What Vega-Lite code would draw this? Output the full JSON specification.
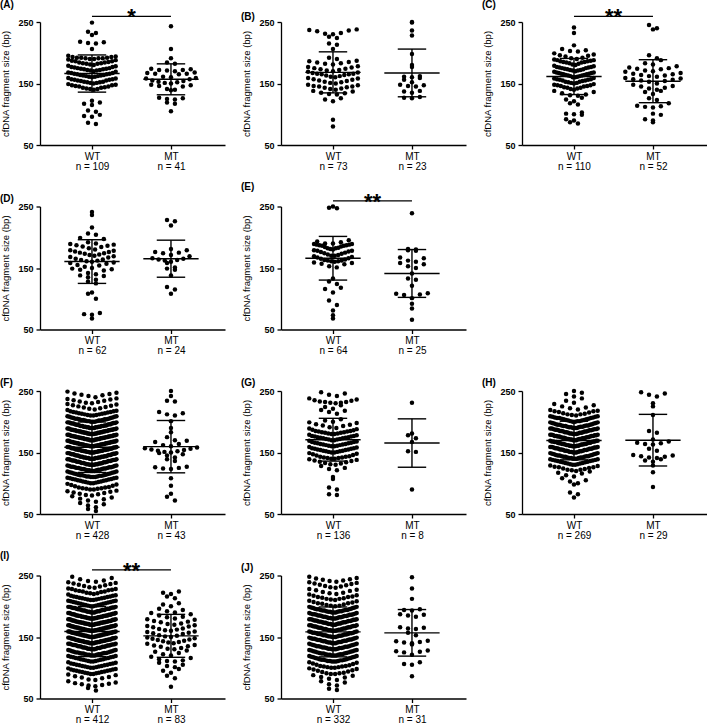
{
"$schema":"https://vega.github.io/schema/vega-lite/v6.json",
"padding":{"left":0,"top":0,"right":0,"bottom":0},
"background":"white",
"config":{"view":{"stroke":null},"font":"Liberation Sans",
"axis":{"grid":false,"domainColor":"#000","domainWidth":1.3,"tickColor":"#000","tickWidth":1.3,"labelColor":"#000","titleColor":"#000","labelFont":"Liberation Sans","titleFont":"Liberation Sans"},
"title":{"font":"Liberation Sans","fontSize":10,"fontWeight":"bold","anchor":"start","frame":"group","color":"#000"}},
"data":{"values":[
{"p":"A","g":"WT","v":[249,234,232,229,218,217,216,215,206,190,191,191,192,192,193,193,194,190,195,192,191,180,181,182,183,184,185,186,187,188,189,182,184,186,183,170,171,172,173,174,175,176,177,178,179,171,173,175,177,172,174,160,161,162,163,164,165,166,167,168,169,161,163,165,167,162,164,166,150,151,152,153,154,155,156,157,158,159,151,153,155,157,152,156,140,141,142,143,144,145,146,147,148,149,141,143,145,147,122,119,117,115,106,104,99,97,96,86,84]},
{"p":"A","g":"MT","v":[243,206,191,184,182,174,172,171,170,173,172,166,167,165,168,166,160,158,157,159,161,153,152,151,154,150,155,147,146,145,148,141,140,139,127,126,125,124,119,117,105]},
{"p":"B","g":"WT","v":[238,237,236,235,232,231,230,226,224,215,213,206,192,190,187,185,184,183,182,181,186,178,177,175,174,173,172,171,170,176,169,168,167,166,165,164,163,162,161,160,166,165,159,158,157,156,155,154,153,152,151,150,148,147,146,145,144,143,142,141,140,145,138,137,135,134,133,132,126,124,121,91,80]},
{"p":"B","g":"MT","v":[250,249,236,228,198,180,177,162,161,160,159,156,152,148,147,146,145,138,137,135,128,127,126]},
{"p":"C","g":"WT","v":[241,232,212,206,204,203,202,199,197,196,195,194,192,191,190,189,188,187,186,185,184,183,182,181,180,188,185,186,184,179,178,177,176,175,174,173,172,171,170,177,175,173,171,176,172,169,168,167,166,165,164,163,162,161,160,168,166,164,162,160,165,167,163,159,158,157,156,155,154,153,152,151,150,157,155,153,151,156,149,148,147,146,145,144,143,142,141,140,147,143,146,138,136,134,132,131,130,127,124,121,118,116,103,101,100,99,92,90,87,85]},
{"p":"C","g":"MT","v":[245,240,238,196,191,188,183,181,178,176,175,174,173,171,170,169,167,166,165,164,163,162,161,159,158,157,156,155,154,153,150,148,146,145,143,142,140,138,136,133,126,123,118,114,113,112,111,101,99,92,90,87]},
{"p":"D","g":"WT","v":[241,236,216,206,204,199,197,192,190,189,188,187,186,185,184,182,180,179,178,177,176,175,174,173,172,171,170,169,168,167,165,164,163,162,161,160,159,158,157,155,154,152,150,149,148,147,146,142,140,138,137,135,131,128,125,110,108,100,77,75,74,68]},
{"p":"D","g":"MT","v":[228,226,219,181,179,176,175,174,171,169,166,165,164,163,162,160,158,151,149,147,138,119,115,108]},
{"p":"E","g":"WT","v":[250,248,247,195,193,192,190,189,188,188,187,186,186,185,187,189,190,184,183,182,181,180,179,178,177,176,175,182,178,174,173,172,171,170,169,168,167,166,165,170,164,163,162,161,160,159,158,157,156,162,161,153,151,133,128,124,118,116,110,97,90,81,73,68]},
{"p":"E","g":"MT","v":[239,181,180,179,178,167,166,162,160,158,156,153,150,141,133,131,121,109,108,107,106,101,92,84,66]},
{"p":"F","g":"WT","v":[240,242,243,244,245,246,247,249,230,231,232,233,234,235,236,237,238,220,221,222,223,224,225,226,227,228,229,210,211,212,213,214,215,216,217,218,219,210,211,212,213,214,215,216,217,200,201,202,203,204,205,206,207,208,209,200,201,202,203,204,205,206,207,208,209,200,201,202,203,204,205,190,191,192,193,194,195,196,197,198,199,190,191,192,193,194,195,196,197,198,199,190,191,192,193,194,195,196,197,198,199,190,191,192,193,180,181,182,183,184,185,186,187,188,189,180,181,182,183,184,185,186,187,188,189,180,181,182,183,184,185,186,187,188,189,180,181,182,183,184,185,186,187,170,171,172,173,174,175,176,177,178,179,170,171,172,173,174,175,176,177,178,179,170,171,172,173,174,175,176,177,178,179,170,171,172,173,174,175,176,177,160,161,162,163,164,165,166,167,168,169,160,161,162,163,164,165,166,167,168,169,160,161,162,163,164,165,166,167,168,169,160,161,162,163,164,165,166,167,150,151,152,153,154,155,156,157,158,159,150,151,152,153,154,155,156,157,158,159,150,151,152,153,154,155,156,157,158,159,150,151,152,153,154,155,140,141,142,143,144,145,146,147,148,149,140,141,142,143,144,145,146,147,148,149,140,141,142,143,144,145,146,147,148,149,140,141,142,143,130,131,132,133,134,135,136,137,138,139,130,131,132,133,134,135,136,137,138,139,130,131,132,133,134,135,136,137,138,139,130,131,120,121,122,123,124,125,126,127,128,129,120,121,122,123,124,125,126,127,128,129,120,121,122,123,124,125,126,127,110,111,112,113,114,115,116,117,118,119,110,111,112,113,114,115,116,117,118,119,110,111,112,113,100,101,102,103,104,105,106,107,108,109,100,101,102,103,104,105,106,107,108,109,90,91,92,93,94,95,96,97,98,99,90,91,92,93,80,81,82,83,84,85,86,87,88,70,72,74,75,77,79,61,64,66,68,55,58]},
{"p":"F","g":"MT","v":[250,242,234,233,216,214,212,210,201,190,183,175,169,167,164,162,160,158,157,156,155,154,153,152,151,150,149,147,145,142,139,136,127,126,125,124,123,108,96,83,78,72,170]},
{"p":"G","g":"WT","v":[248,246,244,242,238,236,235,234,233,232,232,231,231,230,227,224,221,219,218,216,213,204,202,200,199,198,196,195,194,193,191,190,180,181,182,183,184,185,186,187,188,189,180,181,182,183,184,185,170,171,172,173,174,175,176,177,178,179,170,171,172,173,174,175,176,177,160,161,162,163,164,165,166,167,168,169,160,161,162,163,164,165,166,167,150,151,152,153,154,155,156,157,158,159,150,151,152,153,154,155,156,157,140,141,142,143,144,145,146,147,148,149,140,141,142,143,130,131,132,133,134,135,136,137,138,139,128,125,123,121,110,107,93,90,82,81]},
{"p":"G","g":"MT","v":[231,181,178,173,167,152,151,90]},
{"p":"H","g":"WT","v":[250,247,245,241,238,234,231,229,227,225,223,222,220,210,211,212,213,214,215,216,217,218,219,212,217,200,201,202,203,204,205,206,207,208,209,200,201,202,203,204,205,206,207,208,209,201,206,190,191,192,193,194,195,196,197,198,199,190,191,192,193,194,195,196,197,198,199,190,191,192,193,194,195,180,181,182,183,184,185,186,187,188,189,180,181,182,183,184,185,186,187,188,189,180,181,182,183,184,185,186,187,188,189,170,171,172,173,174,175,176,177,178,179,170,171,172,173,174,175,176,177,178,179,170,171,172,173,174,175,176,177,178,179,172,177,160,161,162,163,164,165,166,167,168,169,160,161,162,163,164,165,166,167,168,169,160,161,162,163,164,165,166,167,168,169,161,164,168,150,151,152,153,154,155,156,157,158,159,150,151,152,153,154,155,156,157,158,159,150,151,152,153,154,155,156,157,158,159,140,141,142,143,144,145,146,147,148,149,140,141,142,143,144,145,146,147,148,149,140,141,142,143,144,145,130,131,132,133,134,135,136,137,138,139,130,131,132,133,134,135,136,137,138,139,120,121,122,123,124,125,126,127,128,129,122,126,111,113,116,117,119,100,103,105,108,98,82,85,77]},
{"p":"H","g":"MT","v":[248,246,244,241,230,225,211,185,182,171,168,166,165,164,163,156,153,146,145,144,143,142,141,139,137,135,129,118,94]},
{"p":"I","g":"WT","v":[240,241,242,244,246,248,230,231,232,233,234,235,236,237,238,239,220,221,222,223,224,225,226,227,228,229,221,224,226,228,210,211,212,213,214,215,216,217,218,219,210,211,212,213,214,215,216,217,200,201,202,203,204,205,206,207,208,209,200,201,202,203,204,205,206,207,208,209,190,191,192,193,194,195,196,197,198,199,190,191,192,193,194,195,196,197,198,199,190,191,192,193,194,195,196,197,198,199,180,181,182,183,184,185,186,187,188,189,180,181,182,183,184,185,186,187,188,189,180,181,182,183,184,185,186,187,188,189,180,181,182,183,184,185,170,171,172,173,174,175,176,177,178,179,170,171,172,173,174,175,176,177,178,179,170,171,172,173,174,175,176,177,178,179,170,171,172,173,174,175,160,161,162,163,164,165,166,167,168,169,160,161,162,163,164,165,166,167,168,169,160,161,162,163,164,165,166,167,168,169,160,161,162,163,164,165,166,167,150,151,152,153,154,155,156,157,158,159,150,151,152,153,154,155,156,157,158,159,150,151,152,153,154,155,156,157,158,159,150,151,152,153,154,155,156,157,140,141,142,143,144,145,146,147,148,149,140,141,142,143,144,145,146,147,148,149,140,141,142,143,144,145,146,147,148,149,140,141,142,143,144,145,130,131,132,133,134,135,136,137,138,139,130,131,132,133,134,135,136,137,138,139,130,131,132,133,134,135,136,137,138,139,120,121,122,123,124,125,126,127,128,129,120,121,122,123,124,125,126,127,128,129,120,121,122,123,124,125,110,111,112,113,114,115,116,117,118,119,110,111,112,113,114,115,116,117,118,119,100,101,102,103,104,105,106,107,108,109,100,101,102,103,104,105,106,107,90,91,92,93,94,95,96,97,98,99,90,91,92,93,94,95,96,97,80,81,83,84,85,86,88,89,70,71,72,73,74,75,76,78,63,67]},
{"p":"I","g":"MT","v":[224,222,220,216,213,205,203,200,196,194,192,190,180,182,183,185,187,189,170,171,172,174,175,176,178,179,160,161,162,163,164,166,167,168,169,150,151,152,153,155,156,157,158,159,140,141,142,143,144,145,146,147,148,149,130,131,132,134,135,136,137,139,120,122,124,126,128,110,111,112,114,116,118,101,103,105,108,92,95,98,83,87,69]},
{"p":"J","g":"WT","v":[240,241,242,243,244,245,246,248,230,231,232,233,234,235,236,237,238,239,220,221,222,223,225,226,227,228,210,211,212,213,214,215,216,217,218,219,212,215,200,201,202,203,204,205,206,207,208,209,201,205,190,191,192,193,194,195,196,197,198,199,190,191,192,193,194,195,196,197,198,199,190,191,192,193,194,195,180,181,182,183,184,185,186,187,188,189,180,181,182,183,184,185,186,187,188,189,180,181,182,183,184,185,186,187,170,171,172,173,174,175,176,177,178,179,170,171,172,173,174,175,176,177,178,179,170,171,172,173,174,175,176,177,178,179,160,161,162,163,164,165,166,167,168,169,160,161,162,163,164,165,166,167,168,169,160,161,162,163,164,165,166,167,168,169,150,151,152,153,154,155,156,157,158,159,150,151,152,153,154,155,156,157,158,159,150,151,152,153,154,155,156,157,140,141,142,143,144,145,146,147,148,149,140,141,142,143,144,145,146,147,148,149,140,141,142,143,144,145,146,147,130,131,132,133,134,135,136,137,138,139,130,131,132,133,134,135,136,137,138,139,130,131,132,133,134,135,120,121,122,123,124,125,126,127,128,129,120,121,122,123,124,125,126,127,128,129,120,121,122,123,110,111,112,113,114,115,116,117,118,119,110,111,112,113,114,115,116,117,118,119,110,111,112,113,100,101,102,103,104,105,106,107,108,109,100,101,102,103,90,91,92,93,94,95,96,97,98,99,90,91,80,82,84,85,87,88,71,73,76,78,64,66]},
{"p":"J","g":"MT","v":[247,229,212,195,194,193,187,186,185,183,166,165,164,163,157,153,144,143,142,141,140,138,128,127,126,125,121,109,106,105,86]}
]},
"columns":3,
"bounds":"flush",
"spacing":{"row":61.5,"column":56},
"concat":[
{"title":{"text":"(A)","dx":-40,"dy":8},"width":185,"height":123,"transform":[{"filter":"datum.p=='A'"},{"flatten":["v"]}],"layer":[
{"transform":[{"calculate":"floor(datum.v/10)","as":"b"},{"window":[{"op":"row_number","as":"r"},{"op":"count","as":"n"}],"groupby":["g","b"],"sort":[{"field":"v","order":"ascending"}],"frame":[null,null]},{"calculate":"(datum.r%2==1?1:-1)*(datum.n%2==1?ceil((datum.r-1)/2):floor((datum.r-1)/2)+0.5)","as":"pos"},{"calculate":"(datum.g=='WT'?1:2)+datum.pos*min(0.1,(datum.g=='WT'?0.6:0.63)/max(datum.n-1,1))","as":"xp"}],
"mark":{"type":"circle","size":20,"color":"#000","opacity":1},
"encoding":{"x":{"field":"xp","type":"quantitative","scale":{"domain":[0.342,2.684],"nice":false,"zero":false},"axis":{"title":null,"values":[1,2],"labelExpr":"datum.value==1?['WT','n = 109']:['MT','n = 41']","labelFontSize":10,"labelPadding":2,"labelLineHeight":10,"labelFlush":false,"labelOverlap":false,"labelBound":false,"tickSize":4}},
"y":{"field":"v","type":"quantitative","scale":{"domain":[50,250],"nice":false,"zero":false},"axis":{"title":"cfDNA fragment size (bp)","values":[50,150,250],"labelFontSize":9,"labelFontWeight":"bold","labelFlush":false,"labelPadding":3,"titleFontSize":9.5,"titleFontWeight":"normal","titlePadding":7,"tickSize":4}}}},
{"transform":[{"aggregate":[{"op":"mean","field":"v","as":"m"},{"op":"stdev","field":"v","as":"s"}],"groupby":["g"]},{"calculate":"datum.g=='WT'?1:2","as":"c"},{"calculate":"datum.c-0.35","as":"ml"},{"calculate":"datum.c+0.35","as":"mr"},{"calculate":"datum.c-0.18","as":"cl"},{"calculate":"datum.c+0.18","as":"cr"},{"calculate":"datum.m-datum.s","as":"lo"},{"calculate":"datum.m+datum.s","as":"hi"}],
"layer":[
{"mark":{"type":"rule","color":"#000","strokeWidth":1.4},"encoding":{"x":{"field":"ml","type":"quantitative"},"x2":{"field":"mr"},"y":{"field":"m","type":"quantitative"}}},
{"mark":{"type":"rule","color":"#000","strokeWidth":1.4},"encoding":{"x":{"field":"c","type":"quantitative"},"y":{"field":"lo","type":"quantitative"},"y2":{"field":"hi"}}},
{"mark":{"type":"rule","color":"#000","strokeWidth":1.4},"encoding":{"x":{"field":"cl","type":"quantitative"},"x2":{"field":"cr"},"y":{"field":"lo","type":"quantitative"}}},
{"mark":{"type":"rule","color":"#000","strokeWidth":1.4},"encoding":{"x":{"field":"cl","type":"quantitative"},"x2":{"field":"cr"},"y":{"field":"hi","type":"quantitative"}}}]},
{"data":{"values":[{}]},"mark":{"type":"rule","color":"#000","strokeWidth":1.2},"encoding":{"x":{"datum":1},"x2":{"datum":2},"y":{"datum":259}}},
{"data":{"values":[{}]},"mark":{"type":"text","text":"*","fontSize":22,"fontWeight":"bold","baseline":"alphabetic","dy":8,"color":"#000"},"encoding":{"x":{"datum":1.5},"y":{"datum":259}}}
]},
{"title":{"text":"(B)","dx":-40,"dy":8},"width":185,"height":123,"transform":[{"filter":"datum.p=='B'"},{"flatten":["v"]}],"layer":[
{"transform":[{"calculate":"floor(datum.v/10)","as":"b"},{"window":[{"op":"row_number","as":"r"},{"op":"count","as":"n"}],"groupby":["g","b"],"sort":[{"field":"v","order":"ascending"}],"frame":[null,null]},{"calculate":"(datum.r%2==1?1:-1)*(datum.n%2==1?ceil((datum.r-1)/2):floor((datum.r-1)/2)+0.5)","as":"pos"},{"calculate":"(datum.g=='WT'?1:2)+datum.pos*min(0.1,(datum.g=='WT'?0.63:0.6)/max(datum.n-1,1))","as":"xp"}],
"mark":{"type":"circle","size":20,"color":"#000","opacity":1},
"encoding":{"x":{"field":"xp","type":"quantitative","scale":{"domain":[0.342,2.684],"nice":false,"zero":false},"axis":{"title":null,"values":[1,2],"labelExpr":"datum.value==1?['WT','n = 73']:['MT','n = 23']","labelFontSize":10,"labelPadding":2,"labelLineHeight":10,"labelFlush":false,"labelOverlap":false,"labelBound":false,"tickSize":4}},
"y":{"field":"v","type":"quantitative","scale":{"domain":[50,250],"nice":false,"zero":false},"axis":{"title":"cfDNA fragment size (bp)","values":[50,150,250],"labelFontSize":9,"labelFontWeight":"bold","labelFlush":false,"labelPadding":3,"titleFontSize":9.5,"titleFontWeight":"normal","titlePadding":7,"tickSize":4}}}},
{"transform":[{"aggregate":[{"op":"mean","field":"v","as":"m"},{"op":"stdev","field":"v","as":"s"}],"groupby":["g"]},{"calculate":"datum.g=='WT'?1:2","as":"c"},{"calculate":"datum.c-0.35","as":"ml"},{"calculate":"datum.c+0.35","as":"mr"},{"calculate":"datum.c-0.18","as":"cl"},{"calculate":"datum.c+0.18","as":"cr"},{"calculate":"datum.m-datum.s","as":"lo"},{"calculate":"datum.m+datum.s","as":"hi"}],
"layer":[
{"mark":{"type":"rule","color":"#000","strokeWidth":1.4},"encoding":{"x":{"field":"ml","type":"quantitative"},"x2":{"field":"mr"},"y":{"field":"m","type":"quantitative"}}},
{"mark":{"type":"rule","color":"#000","strokeWidth":1.4},"encoding":{"x":{"field":"c","type":"quantitative"},"y":{"field":"lo","type":"quantitative"},"y2":{"field":"hi"}}},
{"mark":{"type":"rule","color":"#000","strokeWidth":1.4},"encoding":{"x":{"field":"cl","type":"quantitative"},"x2":{"field":"cr"},"y":{"field":"lo","type":"quantitative"}}},
{"mark":{"type":"rule","color":"#000","strokeWidth":1.4},"encoding":{"x":{"field":"cl","type":"quantitative"},"x2":{"field":"cr"},"y":{"field":"hi","type":"quantitative"}}}]}
]},
{"title":{"text":"(C)","dx":-40,"dy":8},"width":185,"height":123,"transform":[{"filter":"datum.p=='C'"},{"flatten":["v"]}],"layer":[
{"transform":[{"calculate":"floor(datum.v/10)","as":"b"},{"window":[{"op":"row_number","as":"r"},{"op":"count","as":"n"}],"groupby":["g","b"],"sort":[{"field":"v","order":"ascending"}],"frame":[null,null]},{"calculate":"(datum.r%2==1?1:-1)*(datum.n%2==1?ceil((datum.r-1)/2):floor((datum.r-1)/2)+0.5)","as":"pos"},{"calculate":"(datum.g=='WT'?1:2)+datum.pos*min(0.1,(datum.g=='WT'?0.5:0.8)/max(datum.n-1,1))","as":"xp"}],
"mark":{"type":"circle","size":20,"color":"#000","opacity":1},
"encoding":{"x":{"field":"xp","type":"quantitative","scale":{"domain":[0.342,2.684],"nice":false,"zero":false},"axis":{"title":null,"values":[1,2],"labelExpr":"datum.value==1?['WT','n = 110']:['MT','n = 52']","labelFontSize":10,"labelPadding":2,"labelLineHeight":10,"labelFlush":false,"labelOverlap":false,"labelBound":false,"tickSize":4}},
"y":{"field":"v","type":"quantitative","scale":{"domain":[50,250],"nice":false,"zero":false},"axis":{"title":"cfDNA fragment size (bp)","values":[50,150,250],"labelFontSize":9,"labelFontWeight":"bold","labelFlush":false,"labelPadding":3,"titleFontSize":9.5,"titleFontWeight":"normal","titlePadding":7,"tickSize":4}}}},
{"transform":[{"aggregate":[{"op":"mean","field":"v","as":"m"},{"op":"stdev","field":"v","as":"s"}],"groupby":["g"]},{"calculate":"datum.g=='WT'?1:2","as":"c"},{"calculate":"datum.c-0.35","as":"ml"},{"calculate":"datum.c+0.35","as":"mr"},{"calculate":"datum.c-0.18","as":"cl"},{"calculate":"datum.c+0.18","as":"cr"},{"calculate":"datum.m-datum.s","as":"lo"},{"calculate":"datum.m+datum.s","as":"hi"}],
"layer":[
{"mark":{"type":"rule","color":"#000","strokeWidth":1.4},"encoding":{"x":{"field":"ml","type":"quantitative"},"x2":{"field":"mr"},"y":{"field":"m","type":"quantitative"}}},
{"mark":{"type":"rule","color":"#000","strokeWidth":1.4},"encoding":{"x":{"field":"c","type":"quantitative"},"y":{"field":"lo","type":"quantitative"},"y2":{"field":"hi"}}},
{"mark":{"type":"rule","color":"#000","strokeWidth":1.4},"encoding":{"x":{"field":"cl","type":"quantitative"},"x2":{"field":"cr"},"y":{"field":"lo","type":"quantitative"}}},
{"mark":{"type":"rule","color":"#000","strokeWidth":1.4},"encoding":{"x":{"field":"cl","type":"quantitative"},"x2":{"field":"cr"},"y":{"field":"hi","type":"quantitative"}}}]},
{"data":{"values":[{}]},"mark":{"type":"rule","color":"#000","strokeWidth":1.2},"encoding":{"x":{"datum":1},"x2":{"datum":2},"y":{"datum":259}}},
{"data":{"values":[{}]},"mark":{"type":"text","text":"**","fontSize":22,"fontWeight":"bold","baseline":"alphabetic","dy":8,"color":"#000"},"encoding":{"x":{"datum":1.5},"y":{"datum":259}}}
]},
{"title":{"text":"(D)","dx":-40,"dy":5},"width":185,"height":123,"transform":[{"filter":"datum.p=='D'"},{"flatten":["v"]}],"layer":[
{"transform":[{"calculate":"floor(datum.v/10)","as":"b"},{"window":[{"op":"row_number","as":"r"},{"op":"count","as":"n"}],"groupby":["g","b"],"sort":[{"field":"v","order":"ascending"}],"frame":[null,null]},{"calculate":"(datum.r%2==1?1:-1)*(datum.n%2==1?ceil((datum.r-1)/2):floor((datum.r-1)/2)+0.5)","as":"pos"},{"calculate":"(datum.g=='WT'?1:2)+datum.pos*min(0.1,(datum.g=='WT'?0.55:0.47)/max(datum.n-1,1))","as":"xp"}],
"mark":{"type":"circle","size":20,"color":"#000","opacity":1},
"encoding":{"x":{"field":"xp","type":"quantitative","scale":{"domain":[0.342,2.684],"nice":false,"zero":false},"axis":{"title":null,"values":[1,2],"labelExpr":"datum.value==1?['WT','n = 62']:['MT','n = 24']","labelFontSize":10,"labelPadding":2,"labelLineHeight":10,"labelFlush":false,"labelOverlap":false,"labelBound":false,"tickSize":4}},
"y":{"field":"v","type":"quantitative","scale":{"domain":[50,250],"nice":false,"zero":false},"axis":{"title":"cfDNA fragment size (bp)","values":[50,150,250],"labelFontSize":9,"labelFontWeight":"bold","labelFlush":false,"labelPadding":3,"titleFontSize":9.5,"titleFontWeight":"normal","titlePadding":7,"tickSize":4}}}},
{"transform":[{"aggregate":[{"op":"mean","field":"v","as":"m"},{"op":"stdev","field":"v","as":"s"}],"groupby":["g"]},{"calculate":"datum.g=='WT'?1:2","as":"c"},{"calculate":"datum.c-0.35","as":"ml"},{"calculate":"datum.c+0.35","as":"mr"},{"calculate":"datum.c-0.18","as":"cl"},{"calculate":"datum.c+0.18","as":"cr"},{"calculate":"datum.m-datum.s","as":"lo"},{"calculate":"datum.m+datum.s","as":"hi"}],
"layer":[
{"mark":{"type":"rule","color":"#000","strokeWidth":1.4},"encoding":{"x":{"field":"ml","type":"quantitative"},"x2":{"field":"mr"},"y":{"field":"m","type":"quantitative"}}},
{"mark":{"type":"rule","color":"#000","strokeWidth":1.4},"encoding":{"x":{"field":"c","type":"quantitative"},"y":{"field":"lo","type":"quantitative"},"y2":{"field":"hi"}}},
{"mark":{"type":"rule","color":"#000","strokeWidth":1.4},"encoding":{"x":{"field":"cl","type":"quantitative"},"x2":{"field":"cr"},"y":{"field":"lo","type":"quantitative"}}},
{"mark":{"type":"rule","color":"#000","strokeWidth":1.4},"encoding":{"x":{"field":"cl","type":"quantitative"},"x2":{"field":"cr"},"y":{"field":"hi","type":"quantitative"}}}]}
]},
{"title":{"text":"(E)","dx":-40,"dy":5},"width":185,"height":123,"transform":[{"filter":"datum.p=='E'"},{"flatten":["v"]}],"layer":[
{"transform":[{"calculate":"floor(datum.v/10)","as":"b"},{"window":[{"op":"row_number","as":"r"},{"op":"count","as":"n"}],"groupby":["g","b"],"sort":[{"field":"v","order":"ascending"}],"frame":[null,null]},{"calculate":"(datum.r%2==1?1:-1)*(datum.n%2==1?ceil((datum.r-1)/2):floor((datum.r-1)/2)+0.5)","as":"pos"},{"calculate":"(datum.g=='WT'?1:2)+datum.pos*min(0.1,(datum.g=='WT'?0.48:0.4)/max(datum.n-1,1))","as":"xp"}],
"mark":{"type":"circle","size":20,"color":"#000","opacity":1},
"encoding":{"x":{"field":"xp","type":"quantitative","scale":{"domain":[0.342,2.684],"nice":false,"zero":false},"axis":{"title":null,"values":[1,2],"labelExpr":"datum.value==1?['WT','n = 64']:['MT','n = 25']","labelFontSize":10,"labelPadding":2,"labelLineHeight":10,"labelFlush":false,"labelOverlap":false,"labelBound":false,"tickSize":4}},
"y":{"field":"v","type":"quantitative","scale":{"domain":[50,250],"nice":false,"zero":false},"axis":{"title":"cfDNA fragment size (bp)","values":[50,150,250],"labelFontSize":9,"labelFontWeight":"bold","labelFlush":false,"labelPadding":3,"titleFontSize":9.5,"titleFontWeight":"normal","titlePadding":7,"tickSize":4}}}},
{"transform":[{"aggregate":[{"op":"mean","field":"v","as":"m"},{"op":"stdev","field":"v","as":"s"}],"groupby":["g"]},{"calculate":"datum.g=='WT'?1:2","as":"c"},{"calculate":"datum.c-0.35","as":"ml"},{"calculate":"datum.c+0.35","as":"mr"},{"calculate":"datum.c-0.18","as":"cl"},{"calculate":"datum.c+0.18","as":"cr"},{"calculate":"datum.m-datum.s","as":"lo"},{"calculate":"datum.m+datum.s","as":"hi"}],
"layer":[
{"mark":{"type":"rule","color":"#000","strokeWidth":1.4},"encoding":{"x":{"field":"ml","type":"quantitative"},"x2":{"field":"mr"},"y":{"field":"m","type":"quantitative"}}},
{"mark":{"type":"rule","color":"#000","strokeWidth":1.4},"encoding":{"x":{"field":"c","type":"quantitative"},"y":{"field":"lo","type":"quantitative"},"y2":{"field":"hi"}}},
{"mark":{"type":"rule","color":"#000","strokeWidth":1.4},"encoding":{"x":{"field":"cl","type":"quantitative"},"x2":{"field":"cr"},"y":{"field":"lo","type":"quantitative"}}},
{"mark":{"type":"rule","color":"#000","strokeWidth":1.4},"encoding":{"x":{"field":"cl","type":"quantitative"},"x2":{"field":"cr"},"y":{"field":"hi","type":"quantitative"}}}]},
{"data":{"values":[{}]},"mark":{"type":"rule","color":"#000","strokeWidth":1.2},"encoding":{"x":{"datum":1},"x2":{"datum":2},"y":{"datum":259}}},
{"data":{"values":[{}]},"mark":{"type":"text","text":"**","fontSize":22,"fontWeight":"bold","baseline":"alphabetic","dy":8,"color":"#000"},"encoding":{"x":{"datum":1.5},"y":{"datum":259}}}
]},
{"width":185,"height":123,"data":{"values":[]},"mark":"point"},
{"title":{"text":"(F)","dx":-40,"dy":5},"width":185,"height":123,"transform":[{"filter":"datum.p=='F'"},{"flatten":["v"]}],"layer":[
{"transform":[{"calculate":"floor(datum.v/10)","as":"b"},{"window":[{"op":"row_number","as":"r"},{"op":"count","as":"n"}],"groupby":["g","b"],"sort":[{"field":"v","order":"ascending"}],"frame":[null,null]},{"calculate":"(datum.r%2==1?1:-1)*(datum.n%2==1?ceil((datum.r-1)/2):floor((datum.r-1)/2)+0.5)","as":"pos"},{"calculate":"(datum.g=='WT'?1:2)+datum.pos*min(0.1,(datum.g=='WT'?0.62:0.66)/max(datum.n-1,1))","as":"xp"}],
"mark":{"type":"circle","size":20,"color":"#000","opacity":1},
"encoding":{"x":{"field":"xp","type":"quantitative","scale":{"domain":[0.342,2.684],"nice":false,"zero":false},"axis":{"title":null,"values":[1,2],"labelExpr":"datum.value==1?['WT','n = 428']:['MT','n = 43']","labelFontSize":10,"labelPadding":2,"labelLineHeight":10,"labelFlush":false,"labelOverlap":false,"labelBound":false,"tickSize":4}},
"y":{"field":"v","type":"quantitative","scale":{"domain":[50,250],"nice":false,"zero":false},"axis":{"title":"cfDNA fragment size (bp)","values":[50,150,250],"labelFontSize":9,"labelFontWeight":"bold","labelFlush":false,"labelPadding":3,"titleFontSize":9.5,"titleFontWeight":"normal","titlePadding":7,"tickSize":4}}}},
{"transform":[{"aggregate":[{"op":"mean","field":"v","as":"m"},{"op":"stdev","field":"v","as":"s"}],"groupby":["g"]},{"calculate":"datum.g=='WT'?1:2","as":"c"},{"calculate":"datum.c-0.35","as":"ml"},{"calculate":"datum.c+0.35","as":"mr"},{"calculate":"datum.c-0.18","as":"cl"},{"calculate":"datum.c+0.18","as":"cr"},{"calculate":"datum.m-datum.s","as":"lo"},{"calculate":"datum.m+datum.s","as":"hi"}],
"layer":[
{"mark":{"type":"rule","color":"#000","strokeWidth":1.4},"encoding":{"x":{"field":"ml","type":"quantitative"},"x2":{"field":"mr"},"y":{"field":"m","type":"quantitative"}}},
{"mark":{"type":"rule","color":"#000","strokeWidth":1.4},"encoding":{"x":{"field":"c","type":"quantitative"},"y":{"field":"lo","type":"quantitative"},"y2":{"field":"hi"}}},
{"mark":{"type":"rule","color":"#000","strokeWidth":1.4},"encoding":{"x":{"field":"cl","type":"quantitative"},"x2":{"field":"cr"},"y":{"field":"lo","type":"quantitative"}}},
{"mark":{"type":"rule","color":"#000","strokeWidth":1.4},"encoding":{"x":{"field":"cl","type":"quantitative"},"x2":{"field":"cr"},"y":{"field":"hi","type":"quantitative"}}}]}
]},
{"title":{"text":"(G)","dx":-40,"dy":5},"width":185,"height":123,"transform":[{"filter":"datum.p=='G'"},{"flatten":["v"]}],"layer":[
{"transform":[{"calculate":"floor(datum.v/10)","as":"b"},{"window":[{"op":"row_number","as":"r"},{"op":"count","as":"n"}],"groupby":["g","b"],"sort":[{"field":"v","order":"ascending"}],"frame":[null,null]},{"calculate":"(datum.r%2==1?1:-1)*(datum.n%2==1?ceil((datum.r-1)/2):floor((datum.r-1)/2)+0.5)","as":"pos"},{"calculate":"(datum.g=='WT'?1:2)+datum.pos*min(0.1,(datum.g=='WT'?0.6:0.3)/max(datum.n-1,1))","as":"xp"}],
"mark":{"type":"circle","size":20,"color":"#000","opacity":1},
"encoding":{"x":{"field":"xp","type":"quantitative","scale":{"domain":[0.342,2.684],"nice":false,"zero":false},"axis":{"title":null,"values":[1,2],"labelExpr":"datum.value==1?['WT','n = 136']:['MT','n = 8']","labelFontSize":10,"labelPadding":2,"labelLineHeight":10,"labelFlush":false,"labelOverlap":false,"labelBound":false,"tickSize":4}},
"y":{"field":"v","type":"quantitative","scale":{"domain":[50,250],"nice":false,"zero":false},"axis":{"title":"cfDNA fragment size (bp)","values":[50,150,250],"labelFontSize":9,"labelFontWeight":"bold","labelFlush":false,"labelPadding":3,"titleFontSize":9.5,"titleFontWeight":"normal","titlePadding":7,"tickSize":4}}}},
{"transform":[{"aggregate":[{"op":"mean","field":"v","as":"m"},{"op":"stdev","field":"v","as":"s"}],"groupby":["g"]},{"calculate":"datum.g=='WT'?1:2","as":"c"},{"calculate":"datum.c-0.35","as":"ml"},{"calculate":"datum.c+0.35","as":"mr"},{"calculate":"datum.c-0.18","as":"cl"},{"calculate":"datum.c+0.18","as":"cr"},{"calculate":"datum.m-datum.s","as":"lo"},{"calculate":"datum.m+datum.s","as":"hi"}],
"layer":[
{"mark":{"type":"rule","color":"#000","strokeWidth":1.4},"encoding":{"x":{"field":"ml","type":"quantitative"},"x2":{"field":"mr"},"y":{"field":"m","type":"quantitative"}}},
{"mark":{"type":"rule","color":"#000","strokeWidth":1.4},"encoding":{"x":{"field":"c","type":"quantitative"},"y":{"field":"lo","type":"quantitative"},"y2":{"field":"hi"}}},
{"mark":{"type":"rule","color":"#000","strokeWidth":1.4},"encoding":{"x":{"field":"cl","type":"quantitative"},"x2":{"field":"cr"},"y":{"field":"lo","type":"quantitative"}}},
{"mark":{"type":"rule","color":"#000","strokeWidth":1.4},"encoding":{"x":{"field":"cl","type":"quantitative"},"x2":{"field":"cr"},"y":{"field":"hi","type":"quantitative"}}}]}
]},
{"title":{"text":"(H)","dx":-40,"dy":5},"width":185,"height":123,"transform":[{"filter":"datum.p=='H'"},{"flatten":["v"]}],"layer":[
{"transform":[{"calculate":"floor(datum.v/10)","as":"b"},{"window":[{"op":"row_number","as":"r"},{"op":"count","as":"n"}],"groupby":["g","b"],"sort":[{"field":"v","order":"ascending"}],"frame":[null,null]},{"calculate":"(datum.r%2==1?1:-1)*(datum.n%2==1?ceil((datum.r-1)/2):floor((datum.r-1)/2)+0.5)","as":"pos"},{"calculate":"(datum.g=='WT'?1:2)+datum.pos*min(0.1,(datum.g=='WT'?0.6:0.57)/max(datum.n-1,1))","as":"xp"}],
"mark":{"type":"circle","size":20,"color":"#000","opacity":1},
"encoding":{"x":{"field":"xp","type":"quantitative","scale":{"domain":[0.342,2.684],"nice":false,"zero":false},"axis":{"title":null,"values":[1,2],"labelExpr":"datum.value==1?['WT','n = 269']:['MT','n = 29']","labelFontSize":10,"labelPadding":2,"labelLineHeight":10,"labelFlush":false,"labelOverlap":false,"labelBound":false,"tickSize":4}},
"y":{"field":"v","type":"quantitative","scale":{"domain":[50,250],"nice":false,"zero":false},"axis":{"title":"cfDNA fragment size (bp)","values":[50,150,250],"labelFontSize":9,"labelFontWeight":"bold","labelFlush":false,"labelPadding":3,"titleFontSize":9.5,"titleFontWeight":"normal","titlePadding":7,"tickSize":4}}}},
{"transform":[{"aggregate":[{"op":"mean","field":"v","as":"m"},{"op":"stdev","field":"v","as":"s"}],"groupby":["g"]},{"calculate":"datum.g=='WT'?1:2","as":"c"},{"calculate":"datum.c-0.35","as":"ml"},{"calculate":"datum.c+0.35","as":"mr"},{"calculate":"datum.c-0.18","as":"cl"},{"calculate":"datum.c+0.18","as":"cr"},{"calculate":"datum.m-datum.s","as":"lo"},{"calculate":"datum.m+datum.s","as":"hi"}],
"layer":[
{"mark":{"type":"rule","color":"#000","strokeWidth":1.4},"encoding":{"x":{"field":"ml","type":"quantitative"},"x2":{"field":"mr"},"y":{"field":"m","type":"quantitative"}}},
{"mark":{"type":"rule","color":"#000","strokeWidth":1.4},"encoding":{"x":{"field":"c","type":"quantitative"},"y":{"field":"lo","type":"quantitative"},"y2":{"field":"hi"}}},
{"mark":{"type":"rule","color":"#000","strokeWidth":1.4},"encoding":{"x":{"field":"cl","type":"quantitative"},"x2":{"field":"cr"},"y":{"field":"lo","type":"quantitative"}}},
{"mark":{"type":"rule","color":"#000","strokeWidth":1.4},"encoding":{"x":{"field":"cl","type":"quantitative"},"x2":{"field":"cr"},"y":{"field":"hi","type":"quantitative"}}}]}
]},
{"title":{"text":"(I)","dx":-40,"dy":5},"width":185,"height":123,"transform":[{"filter":"datum.p=='I'"},{"flatten":["v"]}],"layer":[
{"transform":[{"calculate":"floor(datum.v/10)","as":"b"},{"window":[{"op":"row_number","as":"r"},{"op":"count","as":"n"}],"groupby":["g","b"],"sort":[{"field":"v","order":"ascending"}],"frame":[null,null]},{"calculate":"(datum.r%2==1?1:-1)*(datum.n%2==1?ceil((datum.r-1)/2):floor((datum.r-1)/2)+0.5)","as":"pos"},{"calculate":"(datum.g=='WT'?1:2)+datum.pos*min(0.1,(datum.g=='WT'?0.6:0.6)/max(datum.n-1,1))","as":"xp"}],
"mark":{"type":"circle","size":20,"color":"#000","opacity":1},
"encoding":{"x":{"field":"xp","type":"quantitative","scale":{"domain":[0.342,2.684],"nice":false,"zero":false},"axis":{"title":null,"values":[1,2],"labelExpr":"datum.value==1?['WT','n = 412']:['MT','n = 83']","labelFontSize":10,"labelPadding":2,"labelLineHeight":10,"labelFlush":false,"labelOverlap":false,"labelBound":false,"tickSize":4}},
"y":{"field":"v","type":"quantitative","scale":{"domain":[50,250],"nice":false,"zero":false},"axis":{"title":"cfDNA fragment size (bp)","values":[50,150,250],"labelFontSize":9,"labelFontWeight":"bold","labelFlush":false,"labelPadding":3,"titleFontSize":9.5,"titleFontWeight":"normal","titlePadding":7,"tickSize":4}}}},
{"transform":[{"aggregate":[{"op":"mean","field":"v","as":"m"},{"op":"stdev","field":"v","as":"s"}],"groupby":["g"]},{"calculate":"datum.g=='WT'?1:2","as":"c"},{"calculate":"datum.c-0.35","as":"ml"},{"calculate":"datum.c+0.35","as":"mr"},{"calculate":"datum.c-0.18","as":"cl"},{"calculate":"datum.c+0.18","as":"cr"},{"calculate":"datum.m-datum.s","as":"lo"},{"calculate":"datum.m+datum.s","as":"hi"}],
"layer":[
{"mark":{"type":"rule","color":"#000","strokeWidth":1.4},"encoding":{"x":{"field":"ml","type":"quantitative"},"x2":{"field":"mr"},"y":{"field":"m","type":"quantitative"}}},
{"mark":{"type":"rule","color":"#000","strokeWidth":1.4},"encoding":{"x":{"field":"c","type":"quantitative"},"y":{"field":"lo","type":"quantitative"},"y2":{"field":"hi"}}},
{"mark":{"type":"rule","color":"#000","strokeWidth":1.4},"encoding":{"x":{"field":"cl","type":"quantitative"},"x2":{"field":"cr"},"y":{"field":"lo","type":"quantitative"}}},
{"mark":{"type":"rule","color":"#000","strokeWidth":1.4},"encoding":{"x":{"field":"cl","type":"quantitative"},"x2":{"field":"cr"},"y":{"field":"hi","type":"quantitative"}}}]},
{"data":{"values":[{}]},"mark":{"type":"rule","color":"#000","strokeWidth":1.2},"encoding":{"x":{"datum":1},"x2":{"datum":2},"y":{"datum":259}}},
{"data":{"values":[{}]},"mark":{"type":"text","text":"**","fontSize":22,"fontWeight":"bold","baseline":"alphabetic","dy":8,"color":"#000"},"encoding":{"x":{"datum":1.5},"y":{"datum":259}}}
]},
{"title":{"text":"(J)","dx":-40,"dy":5},"width":185,"height":123,"transform":[{"filter":"datum.p=='J'"},{"flatten":["v"]}],"layer":[
{"transform":[{"calculate":"floor(datum.v/10)","as":"b"},{"window":[{"op":"row_number","as":"r"},{"op":"count","as":"n"}],"groupby":["g","b"],"sort":[{"field":"v","order":"ascending"}],"frame":[null,null]},{"calculate":"(datum.r%2==1?1:-1)*(datum.n%2==1?ceil((datum.r-1)/2):floor((datum.r-1)/2)+0.5)","as":"pos"},{"calculate":"(datum.g=='WT'?1:2)+datum.pos*min(0.1,(datum.g=='WT'?0.6:0.55)/max(datum.n-1,1))","as":"xp"}],
"mark":{"type":"circle","size":20,"color":"#000","opacity":1},
"encoding":{"x":{"field":"xp","type":"quantitative","scale":{"domain":[0.342,2.684],"nice":false,"zero":false},"axis":{"title":null,"values":[1,2],"labelExpr":"datum.value==1?['WT','n = 332']:['MT','n = 31']","labelFontSize":10,"labelPadding":2,"labelLineHeight":10,"labelFlush":false,"labelOverlap":false,"labelBound":false,"tickSize":4}},
"y":{"field":"v","type":"quantitative","scale":{"domain":[50,250],"nice":false,"zero":false},"axis":{"title":"cfDNA fragment size (bp)","values":[50,150,250],"labelFontSize":9,"labelFontWeight":"bold","labelFlush":false,"labelPadding":3,"titleFontSize":9.5,"titleFontWeight":"normal","titlePadding":7,"tickSize":4}}}},
{"transform":[{"aggregate":[{"op":"mean","field":"v","as":"m"},{"op":"stdev","field":"v","as":"s"}],"groupby":["g"]},{"calculate":"datum.g=='WT'?1:2","as":"c"},{"calculate":"datum.c-0.35","as":"ml"},{"calculate":"datum.c+0.35","as":"mr"},{"calculate":"datum.c-0.18","as":"cl"},{"calculate":"datum.c+0.18","as":"cr"},{"calculate":"datum.m-datum.s","as":"lo"},{"calculate":"datum.m+datum.s","as":"hi"}],
"layer":[
{"mark":{"type":"rule","color":"#000","strokeWidth":1.4},"encoding":{"x":{"field":"ml","type":"quantitative"},"x2":{"field":"mr"},"y":{"field":"m","type":"quantitative"}}},
{"mark":{"type":"rule","color":"#000","strokeWidth":1.4},"encoding":{"x":{"field":"c","type":"quantitative"},"y":{"field":"lo","type":"quantitative"},"y2":{"field":"hi"}}},
{"mark":{"type":"rule","color":"#000","strokeWidth":1.4},"encoding":{"x":{"field":"cl","type":"quantitative"},"x2":{"field":"cr"},"y":{"field":"lo","type":"quantitative"}}},
{"mark":{"type":"rule","color":"#000","strokeWidth":1.4},"encoding":{"x":{"field":"cl","type":"quantitative"},"x2":{"field":"cr"},"y":{"field":"hi","type":"quantitative"}}}]}
]}
]
}
